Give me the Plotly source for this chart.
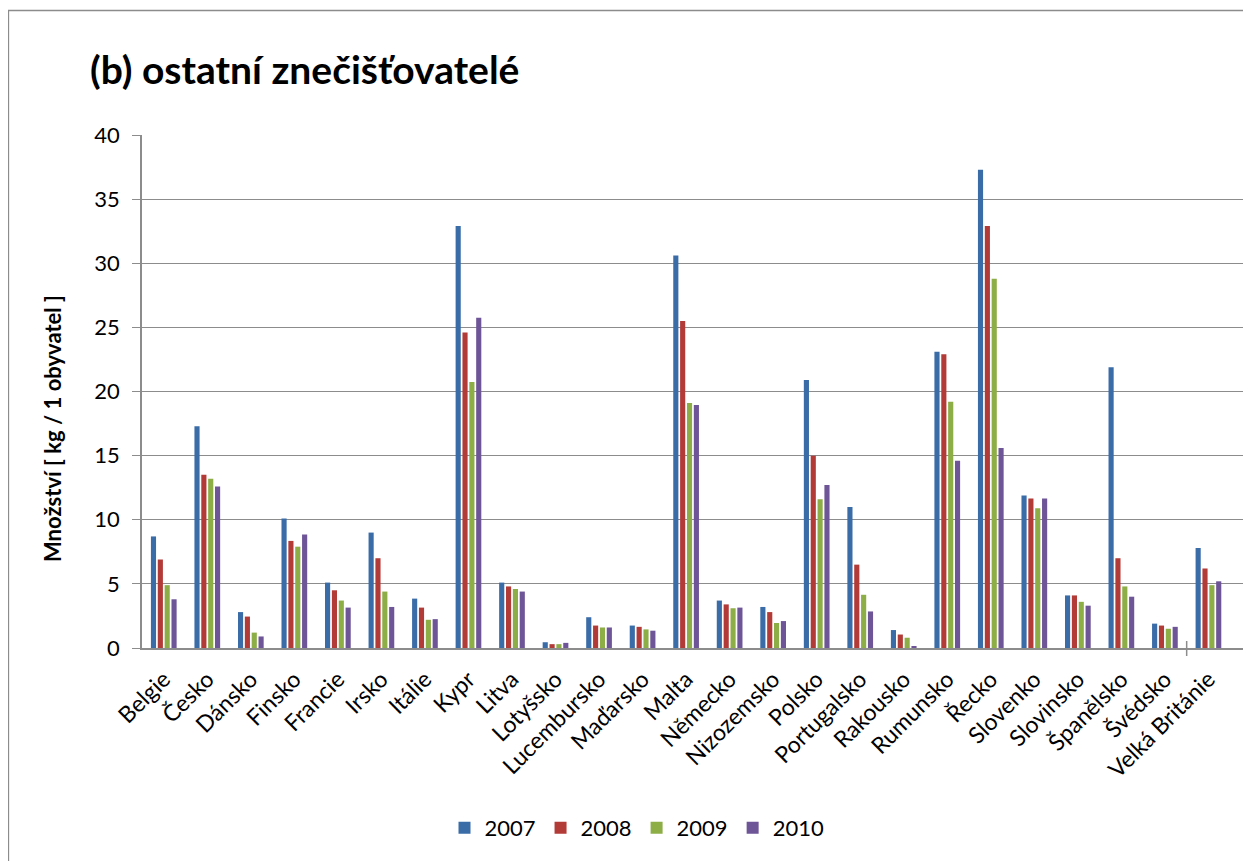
import plotly.graph_objects as go

countries = ["Belgie", "Česko", "Dánsko", "Finsko", "Francie", "Irsko", "Itálie", "Kypr",
             "Litva", "Lotyšsko", "Lucembursko", "Maďarsko", "Malta", "Německo", "Nizozemsko",
             "Polsko", "Portugalsko", "Rakousko", "Rumunsko", "Řecko", "Slovenko", "Slovinsko",
             "Španělsko", "Švédsko", "Velká Británie"]

v2007 = [8.7, 17.3, 2.8, 10.1, 5.1, 9.0, 3.85, 32.9, 5.1, 0.45, 2.4, 1.75, 30.6, 3.7, 3.2,
         20.9, 11.0, 1.4, 23.1, 37.3, 11.9, 4.1, 21.9, 1.9, 7.8]
v2008 = [6.9, 13.5, 2.45, 8.35, 4.5, 7.0, 3.15, 24.6, 4.8, 0.3, 1.75, 1.65, 25.5, 3.4, 2.8,
         15.0, 6.5, 1.05, 22.9, 32.9, 11.65, 4.1, 7.0, 1.75, 6.2]
v2009 = [4.9, 13.2, 1.2, 7.9, 3.7, 4.4, 2.2, 20.75, 4.6, 0.3, 1.6, 1.45, 19.1, 3.1, 1.95,
         11.6, 4.15, 0.8, 19.2, 28.8, 10.9, 3.6, 4.8, 1.5, 4.9]
v2010 = [3.8, 12.6, 0.9, 8.85, 3.15, 3.2, 2.25, 25.75, 4.4, 0.4, 1.6, 1.35, 18.95, 3.15, 2.1,
         12.7, 2.85, 0.15, 14.6, 15.6, 11.65, 3.3, 4.0, 1.65, 5.2]

years = ["2007", "2008", "2009", "2010"]
series = [v2007, v2008, v2009, v2010]
colors = ["#3A6CA8", "#B23B38", "#8DAE47", "#6E5597"]

fig = go.Figure()
for name, vals, col in zip(years, series, colors):
    fig.add_trace(go.Bar(
        x=countries, y=vals, name=name,
        marker=dict(color=col, line=dict(width=0)),
    ))

font_main = "Lato, Calibri, Carlito, 'Open Sans', sans-serif"

# page is offset by the 8px body margin
OFF = 8
W, H = 1251 - OFF, 861 - OFF
L, R, T, B = 142 - OFF, 6, 135 - OFF, 861 - 648
pw, ph = W - L - R, H - T - B

def px(x):
    return (x - OFF - L) / pw

def py(y):
    return (H - B - (y - OFF)) / ph

fig.update_layout(
    width=W, height=H,
    margin=dict(l=L, r=R, t=T, b=B),
    paper_bgcolor="white", plot_bgcolor="white",
    barmode="group", bargap=0.37, bargroupgap=0.25,
    font=dict(family=font_main, size=21, color="black"),
    title=dict(text="<b>(b) ostatní znečišťovatelé</b>", x=(90 - OFF) / W, xref="container",
               xanchor="left", y=1 - (70 - OFF) / H, yref="container", yanchor="middle",
               font=dict(size=39, family=font_main)),
    showlegend=True,
    legend=dict(orientation="h", x=px(637), xanchor="center", y=py(828), yanchor="middle",
                font=dict(size=22), itemwidth=30, traceorder="normal", tracegroupgap=0),
    xaxis=dict(
        range=[-0.5, 24.84], tickangle=-45, showgrid=False, showline=True, linecolor="#8C8C8C",
        linewidth=1.5, ticks="", tickfont=dict(size=23), automargin=False,
        ticklabelstandoff=7,
    ),
    yaxis=dict(
        range=[0, 40], dtick=5, showgrid=True, gridcolor="#8C8C8C", gridwidth=1.3,
        showline=True, linecolor="#8C8C8C", linewidth=1.5, ticks="outside", ticklen=8,
        tickcolor="#8C8C8C", tickfont=dict(size=22), zeroline=False, automargin=False,
        ticklabelstandoff=8,
    ),
    annotations=[dict(text="<b>Množství [ kg / 1 obyvatel ]</b>", xref="paper", yref="paper",
                      x=px(52), y=py(428), xanchor="center", yanchor="middle", textangle=-90,
                      showarrow=False, font=dict(size=22, family=font_main))],
    shapes=[
        dict(type="rect", xref="paper", yref="paper", x0=px(8.5), x1=px(1270),
             y0=py(890), y1=py(10.5), line=dict(color="#8C8C8C", width=1.3),
             fillcolor="rgba(0,0,0,0)", layer="below"),
        dict(type="line", xref="x", yref="paper", x0=23.5, x1=23.5, y0=py(641), y1=py(656),
             line=dict(color="#8C8C8C", width=1.5)),
    ],
)

fig.write_html("out.html")
